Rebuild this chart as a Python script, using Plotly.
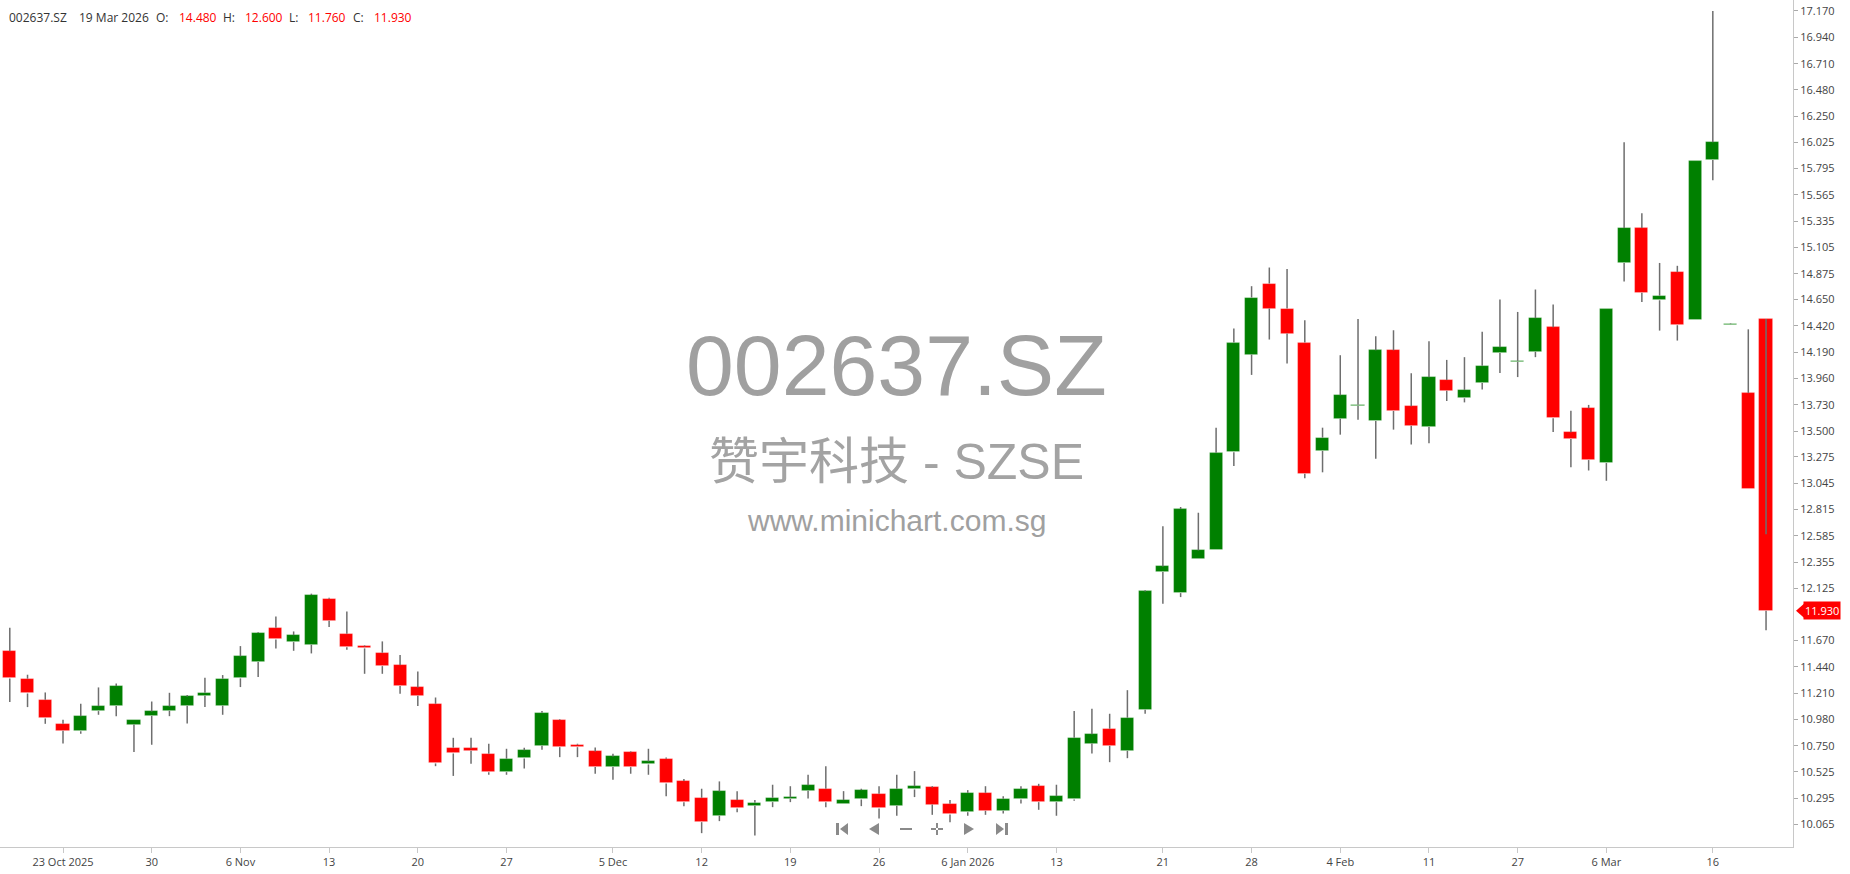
import pandas as pd
import plotly.graph_objects as go

# ---------------- data ----------------
symbol = "002637.SZ"
company = "赞宇科技 - SZSE"
site = "www.minichart.com.sg"
last_date_label = "19 Mar 2026"

holidays = ["2026-01-01", "2026-01-02", "2026-02-16", "2026-02-17", "2026-02-18",
            "2026-02-19", "2026-02-20", "2026-02-23", "2026-02-24"]
dates = [d.strftime("%Y-%m-%d") for d in pd.bdate_range("2025-10-20", "2026-03-19")
         if d.strftime("%Y-%m-%d") not in holidays]

opens = [11.578, 11.337, 11.153, 10.943, 10.879, 11.054, 11.098, 10.937, 11.013, 11.057,
         11.101, 11.188, 11.101, 11.340, 11.482, 11.782, 11.657, 11.634, 12.036, 11.730,
         11.619, 11.564, 11.456, 11.261, 11.118, 10.735, 10.728, 10.681, 10.521, 10.641,
         10.751, 10.978, 10.760, 10.702, 10.565, 10.693, 10.588, 10.638, 10.443, 10.297,
         10.140, 10.277, 10.227, 10.259, 10.288, 10.358, 10.376, 10.247, 10.282, 10.332,
         10.227, 10.370, 10.387, 10.244, 10.171, 10.340, 10.183, 10.282, 10.398, 10.259,
         10.282, 10.771, 10.900, 10.707, 11.066, 12.269, 12.085, 12.385, 12.464, 13.315,
         14.169, 14.789, 14.571, 14.273, 13.327, 13.609, 13.722, 13.589, 14.206, 13.717,
         13.535, 13.947, 13.787, 13.921, 14.182, 14.106, 14.193, 14.407, 13.490, 13.700,
         13.221, 14.969, 15.274, 14.643, 14.889, 14.469, 15.868, 14.425, 13.834, 14.480]
highs = [11.782, 11.372, 11.217, 10.978, 11.118, 11.261, 11.296, 10.975, 11.138, 11.214,
         11.194, 11.345, 11.369, 11.622, 11.745, 11.881, 11.750, 12.080, 12.045, 11.925,
         11.628, 11.663, 11.544, 11.401, 11.173, 10.821, 10.821, 10.769, 10.725, 10.734,
         11.054, 10.984, 10.769, 10.737, 10.681, 10.702, 10.725, 10.649, 10.460, 10.376,
         10.440, 10.355, 10.277, 10.411, 10.398, 10.498, 10.573, 10.355, 10.376, 10.398,
         10.498, 10.530, 10.398, 10.277, 10.364, 10.398, 10.311, 10.398, 10.419, 10.411,
         11.054, 11.075, 11.031, 11.237, 12.110, 12.668, 12.837, 12.787, 13.530, 14.396,
         14.766, 14.929, 14.917, 14.469, 13.530, 14.163, 14.480, 14.329, 14.381, 14.005,
         14.286, 14.122, 14.146, 14.367, 14.650, 14.541, 14.737, 14.607, 13.678, 13.729,
         14.570, 16.024, 15.404, 14.969, 14.944, 15.861, 17.170, 14.440, 14.389, 12.600]
lows = [11.133, 11.089, 10.943, 10.771, 10.856, 11.022, 11.010, 10.696, 10.760, 11.010,
        10.946, 11.089, 11.022, 11.264, 11.351, 11.602, 11.581, 11.558, 11.788, 11.590,
        11.380, 11.380, 11.205, 11.098, 10.573, 10.488, 10.594, 10.498, 10.498, 10.553,
        10.716, 10.652, 10.652, 10.507, 10.454, 10.507, 10.498, 10.311, 10.224, 9.988,
        10.093, 10.171, 9.968, 10.215, 10.259, 10.291, 10.215, 10.247, 10.224, 10.116,
        10.140, 10.303, 10.148, 10.084, 10.140, 10.148, 10.160, 10.247, 10.192, 10.140,
        10.270, 10.684, 10.608, 10.643, 11.031, 11.992, 12.050, 12.385, 12.464, 13.195,
        13.991, 14.300, 14.090, 13.088, 13.140, 13.469, 13.600, 13.259, 13.513, 13.384,
        13.393, 13.763, 13.751, 13.863, 14.008, 13.972, 14.146, 13.493, 13.185, 13.156,
        13.066, 14.806, 14.628, 14.378, 14.291, 14.469, 15.691, 14.425, 12.993, 11.760]
closes = [11.340, 11.208, 10.990, 10.882, 11.010, 11.098, 11.273, 10.975, 11.051, 11.095,
          11.182, 11.214, 11.337, 11.532, 11.739, 11.680, 11.718, 12.068, 11.844, 11.613,
          11.602, 11.447, 11.273, 11.188, 10.597, 10.684, 10.708, 10.521, 10.638, 10.713,
          11.040, 10.739, 10.739, 10.565, 10.658, 10.565, 10.614, 10.422, 10.259, 10.084,
          10.352, 10.204, 10.253, 10.297, 10.300, 10.407, 10.259, 10.277, 10.364, 10.204,
          10.376, 10.398, 10.238, 10.151, 10.340, 10.183, 10.288, 10.372, 10.259, 10.311,
          10.821, 10.853, 10.751, 10.996, 12.100, 12.318, 12.820, 12.458, 13.312, 14.273,
          14.667, 14.571, 14.352, 13.128, 13.443, 13.813, 13.730, 14.206, 13.676, 13.546,
          13.970, 13.853, 13.860, 14.070, 14.233, 14.113, 14.487, 13.613, 13.432, 13.247,
          14.570, 15.274, 14.708, 14.683, 14.425, 15.861, 16.024, 14.435, 12.993, 11.930]

price_ticks = [17.170, 16.940, 16.710, 16.480, 16.250, 16.025, 15.795, 15.565, 15.335,
               15.105, 14.875, 14.650, 14.420, 14.190, 13.960, 13.730, 13.500, 13.275,
               13.045, 12.815, 12.585, 12.355, 12.125, 11.670, 11.440, 11.210, 10.980,
               10.750, 10.525, 10.295, 10.065]
date_ticks = ["2025-10-23", "2025-10-30", "2025-11-06", "2025-11-13", "2025-11-20",
              "2025-11-27", "2025-12-05", "2025-12-12", "2025-12-19", "2025-12-26",
              "2026-01-06", "2026-01-13", "2026-01-21", "2026-01-28", "2026-02-04",
              "2026-02-11", "2026-02-27", "2026-03-06", "2026-03-16"]
date_tick_labels = ["23 Oct 2025", "30", "6 Nov", "13", "20", "27", "5 Dec", "12", "19",
                    "26", "6 Jan 2026", "13", "21", "28", "4 Feb", "11", "27", "6 Mar", "16"]

# ---------------- derived ----------------
UP, DOWN = "#008000", "#FF0000"
body_base = [min(o, c) for o, c in zip(opens, closes)]
body_len = [abs(c - o) for o, c in zip(opens, closes)]
body_col = [UP if c >= o else DOWN for o, c in zip(opens, closes)]

wx, wy = [], []
for d, o, h, l, c in zip(dates, opens, highs, lows, closes):
    wx += [d, d, None, d, d, None]
    wy += [h, max(o, c), None, min(o, c), l, None]

FONT = "Open Sans, Noto Sans, sans-serif"
WM = "Liberation Sans, Arial, Noto Sans CJK SC, sans-serif"

fig = go.Figure()
fig.add_trace(go.Bar(x=dates, y=body_len, base=body_base, width=0.74,
                     marker=dict(color=body_col, line=dict(color="rgba(255,255,255,0.35)", width=0.8)),
                     hoverinfo="skip", showlegend=False))
fig.add_trace(go.Scatter(x=wx, y=wy, mode="lines", line=dict(color="#6e6e6e", width=1.5),
                         hoverinfo="skip", showlegend=False, connectgaps=False))

fig.update_layout(
    width=1850, height=874,
    margin=dict(l=0, r=57, t=0, b=27, autoexpand=False),
    paper_bgcolor="white", plot_bgcolor="white",
    bargap=0, showlegend=False,
    font=dict(family=FONT, size=12, color="#444"),
    xaxis=dict(type="category", range=[-0.552, 100.52], tickmode="array",
               tickvals=date_ticks, ticktext=date_tick_labels,
               showgrid=False, zeroline=False, showline=True, linecolor="#c8c8c8", linewidth=1,
               ticks="outside", ticklen=5, tickcolor="#c8c8c8", automargin=False,
               tickfont=dict(family=FONT, size=11, color="#444")),
    yaxis=dict(side="right", range=[9.867, 17.266], tickmode="array",
               tickvals=price_ticks, ticktext=[f"{v:.3f}" for v in price_ticks],
               showgrid=False, zeroline=False, showline=True, linecolor="#c8c8c8", linewidth=1,
               ticks="outside", ticklen=4, tickcolor="#aaaaaa", automargin=False,
               tickfont=dict(family=FONT, size=11, color="#444")),
)

# watermark
fig.add_annotation(x=0.5, y=1 - 365 / 847, xref="paper", yref="paper", text=symbol,
                   showarrow=False, font=dict(family=WM, size=86, color="#a0a0a0"),
                   xanchor="center", yanchor="middle")
fig.add_annotation(x=0.5, y=1 - 462 / 847, xref="paper", yref="paper", text=company,
                   showarrow=False, font=dict(family=WM, size=50, color="#a3a3a3"),
                   xanchor="center", yanchor="middle")
fig.add_annotation(x=0.5, y=1 - 520 / 847, xref="paper", yref="paper", text=site,
                   showarrow=False, font=dict(family=WM, size=30, color="#a0a0a0"),
                   xanchor="center", yanchor="middle")

# header
o_, h_, l_, c_ = opens[-1], highs[-1], lows[-1], closes[-1]
header = [(7, symbol, "#333"), (77, last_date_label, "#333"), (154, "O:", "#333"),
          (177, f"{o_:.3f}", "#ff0000"), (221, "H:", "#333"), (243, f"{h_:.3f}", "#ff0000"),
          (287, "L:", "#333"), (306, f"{l_:.3f}", "#ff0000"), (351, "C:", "#333"),
          (372, f"{c_:.3f}", "#ff0000")]
for px, txt, col in header:
    fig.add_annotation(x=0, y=1, xref="paper", yref="paper", xshift=px, yshift=-17,
                       text=txt, showarrow=False, xanchor="left", yanchor="middle",
                       font=dict(family=FONT, size=12, color=col))

# last price marker
fig.add_shape(type="path", xref="paper", yref="y", xsizemode="pixel", ysizemode="pixel",
              xanchor=1, yanchor=c_, path="M 3,0 L 11,7 L 11,-7 Z",
              fillcolor="#ff0000", line=dict(width=0))
fig.add_annotation(x=1, y=c_, xref="paper", yref="y", xshift=10, text=f"{c_:.3f}",
                   showarrow=False, xanchor="left", yanchor="middle", bgcolor="#ff0000",
                   borderpad=1, font=dict(family=FONT, size=11, color="white"))

# navigation icons (UI decoration)
ICON = "#8a8a8a"
icons = [
    (842, "M -6,-6 L -3,-6 L -3,6 L -6,6 Z M -2,0 L 6,-6 L 6,6 Z"),
    (874, "M -5,0 L 5,-6 L 5,6 Z"),
    (906, "M -6,-1 L 6,-1 L 6,1 L -6,1 Z"),
    (937, "M -6,-1 L 6,-1 L 6,1 L -6,1 Z M -1,-6 L 1,-6 L 1,6 L -1,6 Z"),
    (969, "M 5,0 L -5,-6 L -5,6 Z"),
    (1002, "M 6,-6 L 3,-6 L 3,6 L 6,6 Z M 2,0 L -6,-6 L -6,6 Z"),
]
for px, p in icons:
    fig.add_shape(type="path", xref="paper", yref="paper", xsizemode="pixel", ysizemode="pixel",
                  xanchor=px / 1793, yanchor=18 / 847, path=p, fillcolor=ICON, line=dict(width=0))

fig.write_html("out.html", config={"displayModeBar": False},
               post_script="document.body.style.margin='0';document.body.style.overflow='hidden';")
